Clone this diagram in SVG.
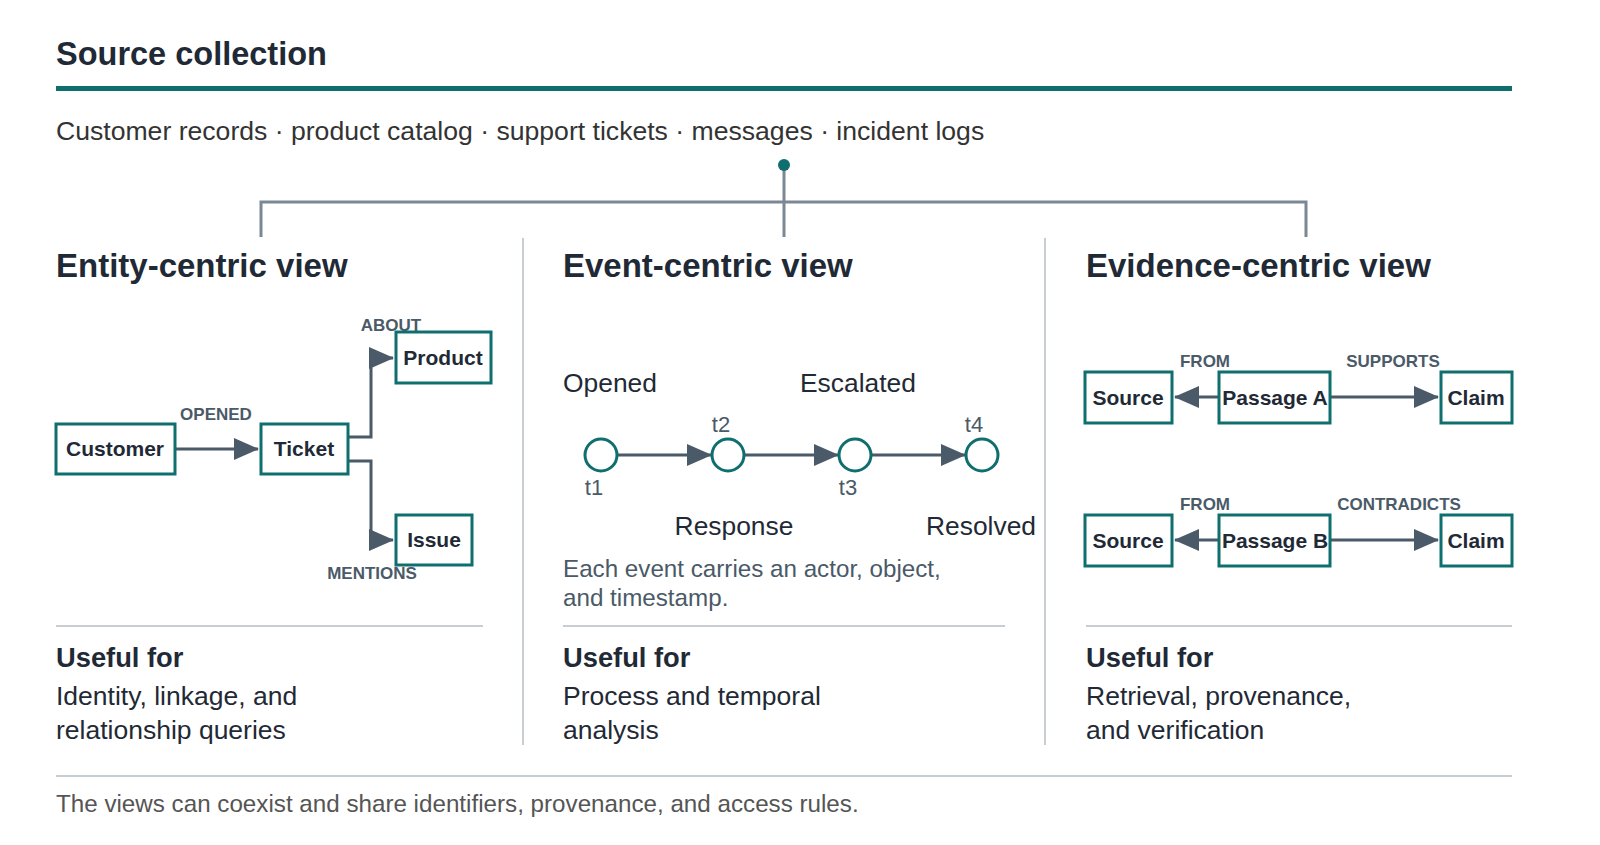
<svg xmlns="http://www.w3.org/2000/svg" width="1600" height="845" viewBox="0 0 1600 845">
<style>
text{font-family:"Liberation Sans",Arial,sans-serif;fill:#1f2a36}
.h{font-weight:bold;font-size:33px}
.lab{font-weight:bold;font-size:17px;fill:#4a5a68;text-anchor:middle}
.nt{font-weight:bold;font-size:21px;text-anchor:middle}
.box{fill:#fff;stroke:#0f6e6e;stroke-width:3}
.c{fill:none;stroke:#4a5a68;stroke-width:3;marker-end:url(#ah)}
.ev{font-size:26.4px}
.rule{stroke:#c8cdd2;stroke-width:2}
.tl{font-size:22px;fill:#4a5a68;text-anchor:middle}
</style>
<defs>
<marker id="ah" markerUnits="userSpaceOnUse" markerWidth="26" markerHeight="24" refX="24" refY="12" orient="auto"><path d="M0,1 L25,12 L0,23Z" fill="#4a5a68"/></marker>
</defs>
<rect width="1600" height="845" fill="#fff"/>
<text x="56" y="65" style="font-weight:bold;font-size:32.5px">Source collection</text>
<rect x="56" y="86" width="1456" height="5" fill="#0f6e6e"/>
<text x="56" y="140" style="font-size:26.6px;fill:#333">Customer records · product catalog · support tickets · messages · incident logs</text>
<g fill="none" stroke="#7a8794" stroke-width="3">
<path d="M784,165 V237 M261,237 V202 H1306 V237"/>
</g>
<circle cx="784" cy="165" r="6" fill="#0f6e6e"/>
<g class="rule"><line x1="523" y1="238" x2="523" y2="745"/><line x1="1045" y1="238" x2="1045" y2="745"/></g>
<text class="h" x="56" y="277">Entity-centric view</text>
<text class="h" x="563" y="277">Event-centric view</text>
<text class="h" x="1086" y="277">Evidence-centric view</text>
<g id="connectors">
<path class="c" d="M175,449 H258"/>
<path class="c" d="M348,437 H371 V358 H393"/>
<path class="c" d="M348,461 H371 V540 H393"/>
<path class="c" d="M617,455 H711"/>
<path class="c" d="M744,455 H838"/>
<path class="c" d="M871,455 H965"/>
<path class="c" d="M1219,397 H1175"/>
<path class="c" d="M1330,397 H1438"/>
<path class="c" d="M1219,540 H1175"/>
<path class="c" d="M1330,540 H1438"/>
</g>
<text class="lab" x="216" y="420">OPENED</text>
<text class="lab" x="391" y="331">ABOUT</text>
<text class="lab" x="372" y="579">MENTIONS</text>
<g id="customer"><rect class="box" x="56" y="424" width="119" height="50"/><text class="nt" x="115" y="456">Customer</text></g>
<g id="ticket"><rect class="box" x="261" y="424" width="87" height="50"/><text class="nt" x="304" y="456">Ticket</text></g>
<g id="product"><rect class="box" x="396" y="332" width="95" height="51"/><text class="nt" x="443" y="365">Product</text></g>
<g id="issue"><rect class="box" x="396" y="515" width="76" height="50"/><text class="nt" x="434" y="547">Issue</text></g>
<g id="events" fill="#fff" stroke="#0f6e6e" stroke-width="3">
<circle cx="601" cy="455" r="16"/><circle cx="728" cy="455" r="16"/><circle cx="855" cy="455" r="16"/><circle cx="982" cy="455" r="16"/>
</g>
<text class="ev" x="563" y="392">Opened</text>
<text class="ev" x="800" y="392">Escalated</text>
<text class="ev" x="734" y="535" text-anchor="middle">Response</text>
<text class="ev" x="981" y="535" text-anchor="middle">Resolved</text>
<text class="tl" x="721" y="432">t2</text>
<text class="tl" x="974" y="432">t4</text>
<text class="tl" x="594" y="495">t1</text>
<text class="tl" x="848" y="495">t3</text>
<text x="563" y="577" style="font-size:24.2px;fill:#4a5a68">Each event carries an actor, object,</text>
<text x="563" y="606" style="font-size:24.2px;fill:#4a5a68">and timestamp.</text>
<text class="lab" x="1205" y="367">FROM</text>
<text class="lab" x="1393" y="367">SUPPORTS</text>
<text class="lab" x="1205" y="510">FROM</text>
<text class="lab" x="1399" y="510">CONTRADICTS</text>
<g id="source1"><rect class="box" x="1085" y="372" width="87" height="51"/><text class="nt" x="1128" y="405">Source</text></g>
<g id="passageA"><rect class="box" x="1219" y="372" width="111" height="51"/><text class="nt" x="1275" y="405">Passage A</text></g>
<g id="claim1"><rect class="box" x="1441" y="372" width="71" height="51"/><text class="nt" x="1476" y="405">Claim</text></g>
<g id="source2"><rect class="box" x="1085" y="515" width="87" height="51"/><text class="nt" x="1128" y="548">Source</text></g>
<g id="passageB"><rect class="box" x="1219" y="515" width="111" height="51"/><text class="nt" x="1275" y="548">Passage B</text></g>
<g id="claim2"><rect class="box" x="1441" y="515" width="71" height="51"/><text class="nt" x="1476" y="548">Claim</text></g>
<g class="rule"><line x1="56" y1="626" x2="483" y2="626"/><line x1="563" y1="626" x2="1005" y2="626"/><line x1="1086" y1="626" x2="1512" y2="626"/><line x1="56" y1="776" x2="1512" y2="776"/></g>
<g style="font-size:26.5px">
<text x="56" y="667" style="font-weight:bold;font-size:27.3px">Useful for</text>
<text x="56" y="705">Identity, linkage, and</text>
<text x="56" y="739">relationship queries</text>
<text x="563" y="667" style="font-weight:bold;font-size:27.3px">Useful for</text>
<text x="563" y="705">Process and temporal</text>
<text x="563" y="739">analysis</text>
<text x="1086" y="667" style="font-weight:bold;font-size:27.3px">Useful for</text>
<text x="1086" y="705">Retrieval, provenance,</text>
<text x="1086" y="739">and verification</text>
</g>
<text x="56" y="812" style="font-size:24.2px;fill:#555">The views can coexist and share identifiers, provenance, and access rules.</text>
</svg>
